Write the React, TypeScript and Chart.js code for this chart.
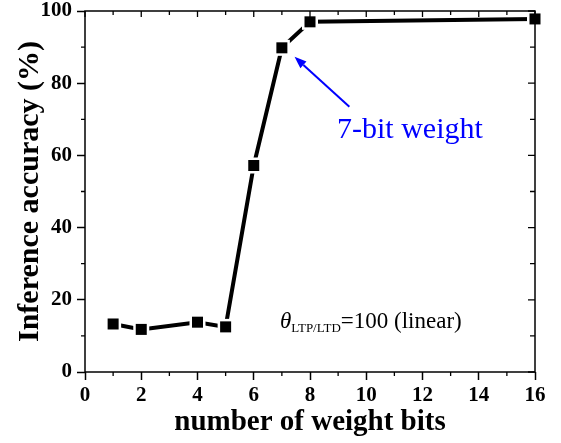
import React, { useEffect, useRef } from "react";
import { Chart, registerables } from "chart.js";

Chart.register(...registerables);

const bits = [1, 2, 4, 5, 6, 7, 8, 16];
const accuracy = [13.3, 11.8, 13.8, 12.5, 57.2, 89.8, 97.0, 97.8];
const xTicks = [0, 2, 4, 6, 8, 10, 12, 14, 16];
const yTicks = [0, 20, 40, 60, 80, 100];

const FONT = "'Liberation Serif', 'Times New Roman', serif";

const framePlugin = {
  id: "framePlugin",
  afterDatasetsDraw(chart: any) {
    const ctx = chart.ctx;
    const xs = chart.scales.x;
    const ys = chart.scales.y;
    const { left, right, top, bottom } = chart.chartArea;
    const meta = chart.getDatasetMeta(0);
    ctx.save();
    // markers with gap
    meta.data.forEach((p: any) => {
      ctx.fillStyle = "#fff";
      ctx.fillRect(p.x - 8, p.y - 8, 16, 16);
    });
    meta.data.forEach((p: any) => {
      ctx.fillStyle = "#000";
      ctx.fillRect(p.x - 5.5, p.y - 5.5, 11, 11);
    });
    // frame
    ctx.strokeStyle = "#000";
    ctx.lineWidth = 1.5;
    ctx.strokeRect(left, top, right - left, bottom - top);
    ctx.lineWidth = 1.3;
    ctx.beginPath();
    for (let v = 0; v <= 16; v += 1) {
      const px = xs.getPixelForValue(v);
      const major = v % 2 === 0;
      const inLen = major ? 6 : 4;
      ctx.moveTo(px, top);
      ctx.lineTo(px, top + inLen);
      if (!major) {
        ctx.moveTo(px, bottom);
        ctx.lineTo(px, bottom + 4);
      }
    }
    for (let v = 0; v <= 100; v += 10) {
      const py = ys.getPixelForValue(v);
      const major = v % 20 === 0;
      ctx.moveTo(right, py);
      ctx.lineTo(right - (major ? 7 : 5), py);
      if (!major) {
        ctx.moveTo(left, py);
        ctx.lineTo(left - 4, py);
      }
    }
    ctx.stroke();

    // arrow annotation
    const tx = xs.getPixelForValue(9.4);
    const ty = ys.getPixelForValue(73.5);
    const hx = xs.getPixelForValue(7.45);
    const hy = ys.getPixelForValue(87.3);
    const ang = Math.atan2(hy - ty, hx - tx);
    const headLen = 12;
    const headW = 4.5;
    const bx = hx - headLen * Math.cos(ang);
    const by = hy - headLen * Math.sin(ang);
    ctx.strokeStyle = "#0000ff";
    ctx.fillStyle = "#0000ff";
    ctx.lineWidth = 2;
    ctx.beginPath();
    ctx.moveTo(tx, ty);
    ctx.lineTo(bx, by);
    ctx.stroke();
    ctx.beginPath();
    ctx.moveTo(hx, hy);
    ctx.lineTo(bx + headW * Math.sin(ang), by - headW * Math.cos(ang));
    ctx.lineTo(bx - headW * Math.sin(ang), by + headW * Math.cos(ang));
    ctx.closePath();
    ctx.fill();

    ctx.font = `30px ${FONT}`;
    ctx.textAlign = "left";
    ctx.textBaseline = "alphabetic";
    ctx.fillText("7-bit weight", xs.getPixelForValue(8.96), ys.getPixelForValue(64.8));

    // theta label
    let x0 = xs.getPixelForValue(6.93);
    const y0 = ys.getPixelForValue(12.2);
    ctx.fillStyle = "#000";
    ctx.font = `italic 23px ${FONT}`;
    ctx.fillText("\u03B8", x0, y0);
    x0 += ctx.measureText("\u03B8").width;
    ctx.font = `13px ${FONT}`;
    ctx.fillText("LTP/LTD", x0, y0 + 4);
    x0 += ctx.measureText("LTP/LTD").width;
    ctx.font = `23px ${FONT}`;
    ctx.fillText("=100 (linear)", x0, y0);
    ctx.restore();
  },
};

export default function App() {
  const ref = useRef<HTMLCanvasElement>(null);
  useEffect(() => {
    document.body.style.margin = "0";
    const chart = new Chart(ref.current as HTMLCanvasElement, {
      type: "line",
      data: {
        datasets: [
          {
            data: bits.map((b, i) => ({ x: b, y: accuracy[i] })),
            borderColor: "#000",
            borderWidth: 4,
            pointRadius: 0,
            tension: 0,
          },
        ],
      },
      options: {
        animation: false,
        responsive: false,
        layout: { padding: { top: 11, right: 26, left: 0, bottom: 0 } },
        plugins: { legend: { display: false }, tooltip: { enabled: false } },
        scales: {
          x: {
            type: "linear",
            min: 0,
            max: 16,
            afterFit: (s: any) => {
              s.height = 71;
              s.paddingLeft = 0;
              s.paddingRight = 0;
            },
            afterBuildTicks: (s: any) => {
              s.ticks = xTicks.map((v) => ({ value: v }));
            },
            ticks: {
              color: "#000",
              padding: 3,
              maxRotation: 0,
              font: { family: FONT, size: 21, weight: "bold" },
            },
            grid: {
              drawOnChartArea: false,
              drawTicks: true,
              tickLength: 8,
              tickWidth: 1.5,
              tickColor: "#000",
            },
            border: { display: false },
            title: {
              display: true,
              text: "number of weight bits",
              color: "#000",
              font: { family: FONT, size: 29, weight: "bold", lineHeight: 1 },
              padding: { top: 0, bottom: 5.5 },
            },
          },
          y: {
            type: "linear",
            min: 0,
            max: 100,
            afterFit: (s: any) => {
              s.width = 85;
              s.paddingTop = 0;
              s.paddingBottom = 0;
            },
            afterBuildTicks: (s: any) => {
              s.ticks = yTicks.map((v) => ({ value: v }));
            },
            ticks: {
              color: "#000",
              padding: 5,
              font: { family: FONT, size: 21, weight: "bold" },
            },
            grid: {
              drawOnChartArea: false,
              drawTicks: true,
              tickLength: 8,
              tickWidth: 1.5,
              tickColor: "#000",
            },
            border: { display: false },
            title: {
              display: true,
              text: "Inference accuracy (%)",
              color: "#000",
              font: { family: FONT, size: 30, weight: "bold", lineHeight: 1 },
              padding: { top: 15.5, bottom: 0 },
            },
          },
        },
      },
      plugins: [framePlugin],
    });
    return () => chart.destroy();
  }, []);
  return (
    <div style={{ position: "fixed", left: 0, top: 0, width: 561, height: 443, background: "#fff" }}>
      <canvas ref={ref} width={561} height={443} />
    </div>
  );
}
